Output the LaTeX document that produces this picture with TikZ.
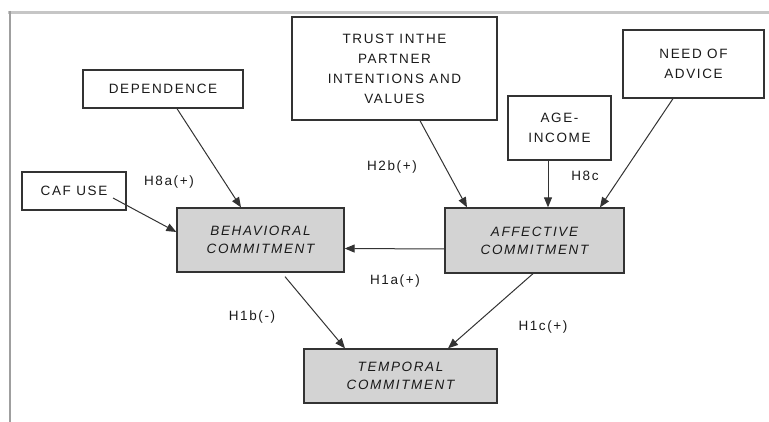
\documentclass[tikz,border=0pt]{standalone}
\usepackage{fontspec}
\setmainfont{Liberation Sans}[LetterSpace=12]
\usetikzlibrary{arrows.meta}
\definecolor{boxfill}{HTML}{D3D3D3}
\definecolor{linegray}{HTML}{333333}
\definecolor{txt}{HTML}{1A1A1A}
\tikzset{
  plain/.style={draw=linegray, line width=1.3pt, fill=white, inner sep=0pt, text=txt,
    align=center, font=\fontsize{13.5}{20}\selectfont},
  core/.style={draw=linegray, line width=1.3pt, fill=boxfill, inner sep=0pt, text=txt,
    align=center, font=\fontsize{13.5}{18}\selectfont\itshape},
  lbl/.style={inner sep=0pt, text=txt, font=\fontsize{13.5}{15}\selectfont},
  arr/.style={draw=linegray, line width=1pt, -{Triangle[length=10pt,width=8pt]}}
}
\begin{document}
\begin{tikzpicture}[x=1pt,y=-1pt]
\useasboundingbox (0,0) rectangle (769,422);
\draw[gray!45, line width=2.5pt] (8,12.5) -- (769,12.5);
\draw[gray!75, line width=2pt] (9.5,11) -- (9.5,422);

\node[plain, minimum width=160pt, minimum height=38pt] (dep) at (163,89) {DEPENDENCE};
\node[plain, minimum width=104pt, minimum height=38pt] (caf) at (74,191) {CAF USE};
\node[plain, minimum width=205pt, minimum height=103pt] (trust) at (394.5,68.5) {TRUST INTHE\\PARTNER\\INTENTIONS AND\\VALUES};
\node[plain, minimum width=103pt, minimum height=64pt] (age) at (559.5,128) {AGE-\\INCOME};
\node[plain, minimum width=141pt, minimum height=68pt] (need) at (693.5,64) {NEED OF\\ADVICE};
\node[core, minimum width=167pt, minimum height=64pt] (beh) at (260.5,240) {BEHAVIORAL\\COMMITMENT};
\node[core, minimum width=179pt, minimum height=65pt] (aff) at (534.5,240.5) {AFFECTIVE\\COMMITMENT};
\node[core, minimum width=193pt, minimum height=54pt] (temp) at (400.5,376) {TEMPORAL\\COMMITMENT};

\coordinate (cafstart) at (113,198);
\draw[arr] ([xshift=14pt]dep.south) -- ([xshift=-19.5pt]beh.north);
\draw[arr] (cafstart) -- ([yshift=8pt]beh.west);
\draw[arr] ([xshift=25.5pt]trust.south) -- ([xshift=-67.5pt]aff.north);
\draw[arr] ([xshift=-11.5pt]age.south) -- ([xshift=-11.5pt]age.south |- aff.north);
\draw[arr] ([xshift=-20.5pt]need.south) -- ([xshift=65.5pt]aff.north);
\draw[arr] ([yshift=-8.5pt]aff.west) -- ([yshift=-8.5pt]beh.east);
\draw[arr] ([xshift=24.5pt,yshift=-4pt]beh.south) -- ([xshift=-55.5pt]temp.north);
\draw[arr] ([xshift=-1.5pt]aff.south) -- ([xshift=47.5pt]temp.north);

\node[lbl] (l8a) at (169,182) {H8a(+)};
\node[lbl] (l2b) at (392,167) {H2b(+)};
\node[lbl] (l8c) at (585,176) {H8c};
\node[lbl] (l1a) at (395,281) {H1a(+)};
\node[lbl] (l1b) at (252,317) {H1b(-)};
\node[lbl] (l1c) at (543,327) {H1c(+)};
\end{tikzpicture}
\end{document}
